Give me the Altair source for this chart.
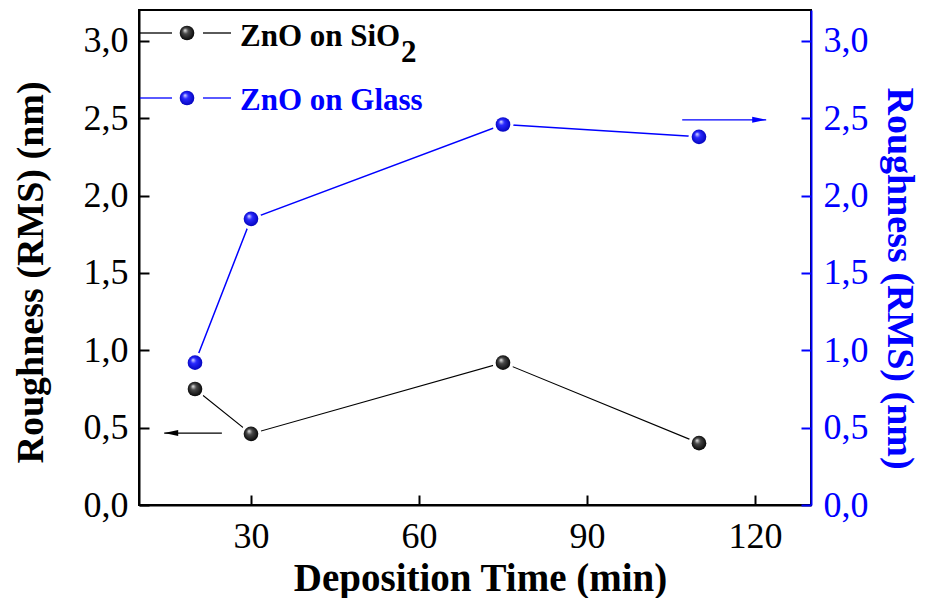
import altair as alt
import pandas as pd

# ---- data ----
time_min = [20, 30, 75, 110]
rms_sio2 = [0.75, 0.46, 0.92, 0.40]
rms_glass = [0.92, 1.85, 2.46, 2.38]

x_ticks = [30, 60, 90, 120]
y_ticks = [0.0, 0.5, 1.0, 1.5, 2.0, 2.5, 3.0]

legend_labels = ["ZnO on SiO", "2", "ZnO on Glass"]

arrow_sio2_x = [24.8]
arrow_sio2_x_tip = [14.5]
arrow_sio2_y = [0.465]
arrow_glass_x = [107.0]
arrow_glass_x_tip = [122.0]
arrow_glass_y = [2.49]

FONT = "Liberation Serif"
BLUE = "#0000ff"

df_sio2 = pd.DataFrame({"t": time_min, "r": rms_sio2})
df_glass = pd.DataFrame({"t": time_min, "r": rms_glass})
df_arrow_sio2 = pd.DataFrame({"x": arrow_sio2_x, "xt": arrow_sio2_x_tip, "y": arrow_sio2_y})
df_arrow_glass = pd.DataFrame({"x": arrow_glass_x, "xt": arrow_glass_x_tip, "y": arrow_glass_y})

x_scale = alt.Scale(domain=[10, 130], nice=False, zero=False)
y_scale = alt.Scale(domain=[0, 3.2], nice=False, zero=True)

label_expr = "replace(format(datum.value, '.1f'), '.', ',')"

x_axis = alt.Axis(
    values=x_ticks, title="Deposition Time (min)", grid=False,
    tickSize=alt.ExprRef(expr="-10"), tickWidth=2, tickColor="black",
    domainColor="black", domainWidth=2,
    labelFontSize=36, labelColor="black", labelFont=FONT,
    labelBaseline="alphabetic", labelPadding=52,
    titleFontSize=39, titleFont=FONT, titleFontWeight="bold", titleColor="black",
    titleX=341, titleY=85, titleBaseline="alphabetic", titleAlign="center",
)

y_axis_left = alt.Axis(
    values=y_ticks, title="Roughness (RMS) (nm)", grid=False, orient="left",
    tickSize=alt.ExprRef(expr="-10"), tickWidth=2, tickColor="black",
    domainColor="black", domainWidth=2,
    labelFontSize=36, labelColor="black", labelFont=FONT, labelExpr=label_expr,
    labelPadding=21,
    titleFontSize=38, titleFont=FONT, titleFontWeight="bold", titleColor="black",
    titleAngle=-90, titleX=-97, titleY=262, titleBaseline="alphabetic", titleAlign="center",
)

y_axis_right = alt.Axis(
    values=y_ticks, title="Roughness (RMS) (nm)", grid=False, orient="right",
    tickSize=alt.ExprRef(expr="-10"), tickWidth=2, tickColor=BLUE,
    domainColor=BLUE, domainWidth=2,
    labelFontSize=36, labelColor=BLUE, labelFont=FONT, labelExpr=label_expr,
    labelPadding=22,
    titleFontSize=38, titleFont=FONT, titleFontWeight="bold", titleColor=BLUE,
    titleAngle=90, titleX=76, titleY=268, titleBaseline="alphabetic", titleAlign="center",
)


def sphere(base_light, base_mid, base_dark):
    return alt.RadialGradient(
        gradient="radial",
        stops=[
            alt.GradientStop(offset=0.0, color=base_light),
            alt.GradientStop(offset=0.35, color=base_mid),
            alt.GradientStop(offset=1.0, color=base_dark),
        ],
        x1=0.35, y1=0.3, r1=0.0, x2=0.5, y2=0.5, r2=0.55,
    )


black_grad = sphere("#f4f4f4", "#4a4a4a", "#000000")
blue_grad = sphere("#eaeaff", "#2a2aff", "#0000b8")

LEFT_ARROW = "M0,0L2,-0.43L2,0.43Z"
RIGHT_ARROW = "M0,0L-2,-0.43L-2,0.43Z"


def series_layers(df, color, grad, axis, line_w, df_arrow, arrow_shape):
    x = alt.X("t:Q", scale=x_scale, axis=x_axis)
    y = alt.Y("r:Q", scale=y_scale, axis=axis)
    line = alt.Chart(df).mark_line(color=color, strokeWidth=line_w).encode(x=x, y=y)
    halo = alt.Chart(df).mark_circle(size=440, color="white", opacity=1).encode(x=x, y=y)
    ball = alt.Chart(df).mark_circle(size=215, fill=grad, opacity=1, fillOpacity=1, strokeWidth=0).encode(x=x, y=y)
    ax = alt.X("x:Q", scale=x_scale, axis=x_axis)
    axt = alt.X("xt:Q", scale=x_scale, axis=x_axis)
    ay = alt.Y("y:Q", scale=y_scale, axis=axis)
    arrow_line = alt.Chart(df_arrow).mark_rule(color=color, strokeWidth=1.3).encode(x=ax, x2="xt:Q", y=ay)
    arrow_head = alt.Chart(df_arrow).mark_point(
        shape=arrow_shape, size=196, filled=True, color=color, opacity=1, strokeWidth=0
    ).encode(x=axt, y=ay)
    return alt.layer(line, arrow_line, arrow_head, halo, ball)


black_group = series_layers(df_sio2, "black", black_grad, y_axis_left, 1.1, df_arrow_sio2, LEFT_ARROW)
blue_group = series_layers(df_glass, BLUE, blue_grad, y_axis_right, 1.5, df_arrow_glass, RIGHT_ARROW)

# ---- hand-drawn legend (pixel positions inside the plot area) ----
one = pd.DataFrame({"k": [0]})


def legend_row(y_px, color, grad, label, text_base):
    seg1 = alt.Chart(one).mark_rule(color=color, strokeWidth=1.3).encode(
        x=alt.value(1), x2=alt.value(33), y=alt.value(y_px))
    seg2 = alt.Chart(one).mark_rule(color=color, strokeWidth=1.3).encode(
        x=alt.value(64), x2=alt.value(92), y=alt.value(y_px))
    ball = alt.Chart(one).mark_circle(size=215, fill=grad, opacity=1, strokeWidth=0).encode(
        x=alt.value(48), y=alt.value(y_px))
    txt = alt.Chart(one).mark_text(
        font=FONT, fontSize=31, fontWeight="bold", color=color, align="left", baseline="alphabetic"
    ).encode(x=alt.value(101), y=alt.value(text_base), text=alt.value(label))
    return [seg1, seg2, ball, txt]


legend_layers = legend_row(23, "black", black_grad, legend_labels[0], 36)
legend_layers.append(
    alt.Chart(one).mark_text(
        font=FONT, fontSize=31, fontWeight="bold", color="black", align="left", baseline="alphabetic"
    ).encode(x=alt.value(262), y=alt.value(52), text=alt.value(legend_labels[1]))
)
legend_layers += legend_row(88, BLUE, blue_grad, legend_labels[2], 100)

chart = alt.layer(black_group, blue_group, *legend_layers).resolve_scale(
    y="independent"
).properties(
    width=672, height=495,
    autosize=alt.AutoSizeParams(type="none"),
    padding={"left": 131, "top": 2, "right": 110, "bottom": 93},
    background="white",
).configure_view(
    stroke="black", strokeWidth=2
)

chart.save("out.html", embed_options={"renderer": "svg", "actions": False})
